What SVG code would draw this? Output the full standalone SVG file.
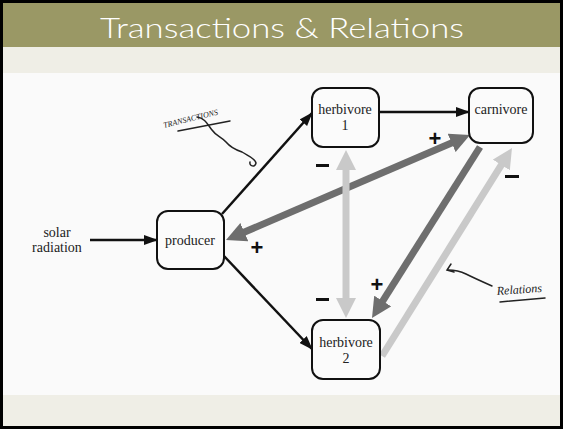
<svg xmlns="http://www.w3.org/2000/svg" width="563" height="429" viewBox="0 0 563 429">
<style>
.node rect{fill:#fbfbfb;stroke:#111;stroke-width:2}
.lbl{font-family:'Liberation Serif','DejaVu Serif',serif;font-size:14px;fill:#222;text-anchor:middle}
.sign{font-family:'Liberation Sans',sans-serif;font-size:22px;font-weight:bold;fill:#111;text-anchor:middle}
.hand{font-family:'Liberation Serif',serif;font-style:italic;fill:#222}
.blk{stroke:#111;stroke-width:2.5;fill:none}
.dark{stroke:#6e6e6e;stroke-width:7;fill:none}
.light{stroke:#c9c9c9;stroke-width:7;fill:none}
.scrib{stroke:#222;stroke-width:1.5;fill:none;stroke-linecap:round}
</style>
<defs>
<marker id="ab" markerUnits="userSpaceOnUse" markerWidth="14" markerHeight="10" refX="13" refY="5" orient="auto"><path d="M0,0 L14,5 L0,10 z" fill="#111"/></marker>
<marker id="ad" markerUnits="userSpaceOnUse" markerWidth="22" markerHeight="20" refX="8" refY="10" orient="auto-start-reverse"><path d="M0,0 L20,10 L0,20 z" fill="#6e6e6e"/></marker>
<marker id="al" markerUnits="userSpaceOnUse" markerWidth="22" markerHeight="20" refX="8" refY="10" orient="auto-start-reverse"><path d="M0,0 L20,10 L0,20 z" fill="#c9c9c9"/></marker>
</defs>
<rect x="0" y="0" width="563" height="429" fill="#fafafa"/>
<rect x="0" y="0" width="563" height="47" fill="#9a9865"/>
<rect x="0" y="47" width="563" height="26" fill="#efeee6"/>
<rect x="0" y="395" width="563" height="34" fill="#efeee6"/>
<rect x="1.5" y="1.5" width="560" height="426" fill="none" stroke="#000" stroke-width="3"/>
<text x="282" y="38" font-family="Lato,'DejaVu Sans',sans-serif" font-weight="300" font-size="28" fill="#fff" text-anchor="middle" textLength="364" lengthAdjust="spacingAndGlyphs">Transactions &amp; Relations</text>

<g id="connectors">
<line class="blk" x1="90" y1="240" x2="157" y2="240" marker-end="url(#ab)"/>
<line class="blk" x1="222" y1="214" x2="312" y2="113" marker-end="url(#ab)"/>
<line class="blk" x1="224" y1="256" x2="312" y2="349" marker-end="url(#ab)"/>
<line class="blk" x1="379" y1="112" x2="469" y2="112" marker-end="url(#ab)"/>
<line class="dark" x1="237" y1="235.3" x2="459" y2="139.7" marker-start="url(#ad)" marker-end="url(#ad)"/>
<line class="light" x1="346" y1="162" x2="346" y2="306" marker-start="url(#al)" marker-end="url(#al)"/>
<line class="dark" x1="480" y1="147" x2="378.4" y2="307.8" marker-end="url(#ad)"/>
<line class="light" x1="382" y1="356" x2="505.6" y2="158.2" marker-end="url(#al)"/>
</g>

<g id="solar"><text class="lbl" x="57" y="237">solar</text><text class="lbl" x="57" y="252">radiation</text></g>
<g id="producer" class="node"><rect x="157" y="211" width="67" height="58" rx="11"/><text class="lbl" x="190" y="245">producer</text></g>
<g id="herbivore1" class="node"><rect x="312" y="88" width="67" height="59" rx="11"/><text class="lbl" x="345" y="114">herbivore</text><text class="lbl" x="345" y="130">1</text></g>
<g id="carnivore" class="node"><rect x="469" y="88" width="64" height="55" rx="11"/><text class="lbl" x="501" y="114">carnivore</text></g>
<g id="herbivore2" class="node"><rect x="312" y="320" width="68" height="59" rx="11"/><text class="lbl" x="346" y="347">herbivore</text><text class="lbl" x="346" y="363">2</text></g>

<g id="signs">
<text class="sign" x="435" y="146">+</text>
<text class="sign" x="257" y="255">+</text>
<text class="sign" x="377" y="292">+</text>
<rect x="316" y="164" width="13" height="3" fill="#111"/>
<rect x="316" y="298" width="13" height="3" fill="#111"/>
<rect x="505" y="175" width="14" height="3" fill="#111"/>
</g>

<g id="annotations">
<text class="hand" x="164" y="128" font-size="8" transform="rotate(-14 164 128)">TRANSACTIONS</text>
<path class="scrib" d="M178,131 L230,121"/>
<path class="scrib" d="M197,117 C205,118 208,125 212,130 C216,136 222,137 226,142 C231,148 236,150 242,152 C248,156 255,158 256,163 C255,168 249,166 250,162"/>
<text class="hand" x="497" y="295" font-size="12" transform="rotate(-4 497 295)">Relations</text>
<path class="scrib" d="M500,302 L545,298"/>
<path class="scrib" d="M448,270 Q458,270 466,274 T492,286"/>
<path class="scrib" d="M451,264 L447,270 L454,272"/>
</g>
</svg>
